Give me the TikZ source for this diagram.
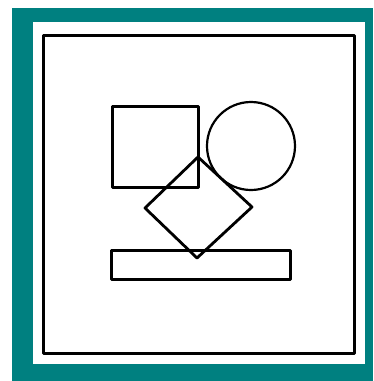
\documentclass[tikz,border=0pt]{standalone}
\usepackage{tikz}
\definecolor{frameteal}{RGB}{0,128,128}

\begin{document}
\begin{tikzpicture}[x=1pt,y=-1pt,line join=round]
\useasboundingbox (0,0) rectangle (373,381);
\fill[frameteal] (12,8) rectangle (373,381);
\fill[white] (33,22) rectangle (365,364);
\draw[line width=3pt] (43,35) rectangle (354,353);
% shapes
\draw[line width=3pt] (112,106) rectangle (198,187);
\draw[line width=2.2pt] (251,146) circle (44);
\draw[line width=2.8pt] (145,208) -- (198,157) -- (252,207) -- (197,258) -- cycle;
\draw[line width=3pt] (111,250) rectangle (290,279);
\end{tikzpicture}
\end{document}
